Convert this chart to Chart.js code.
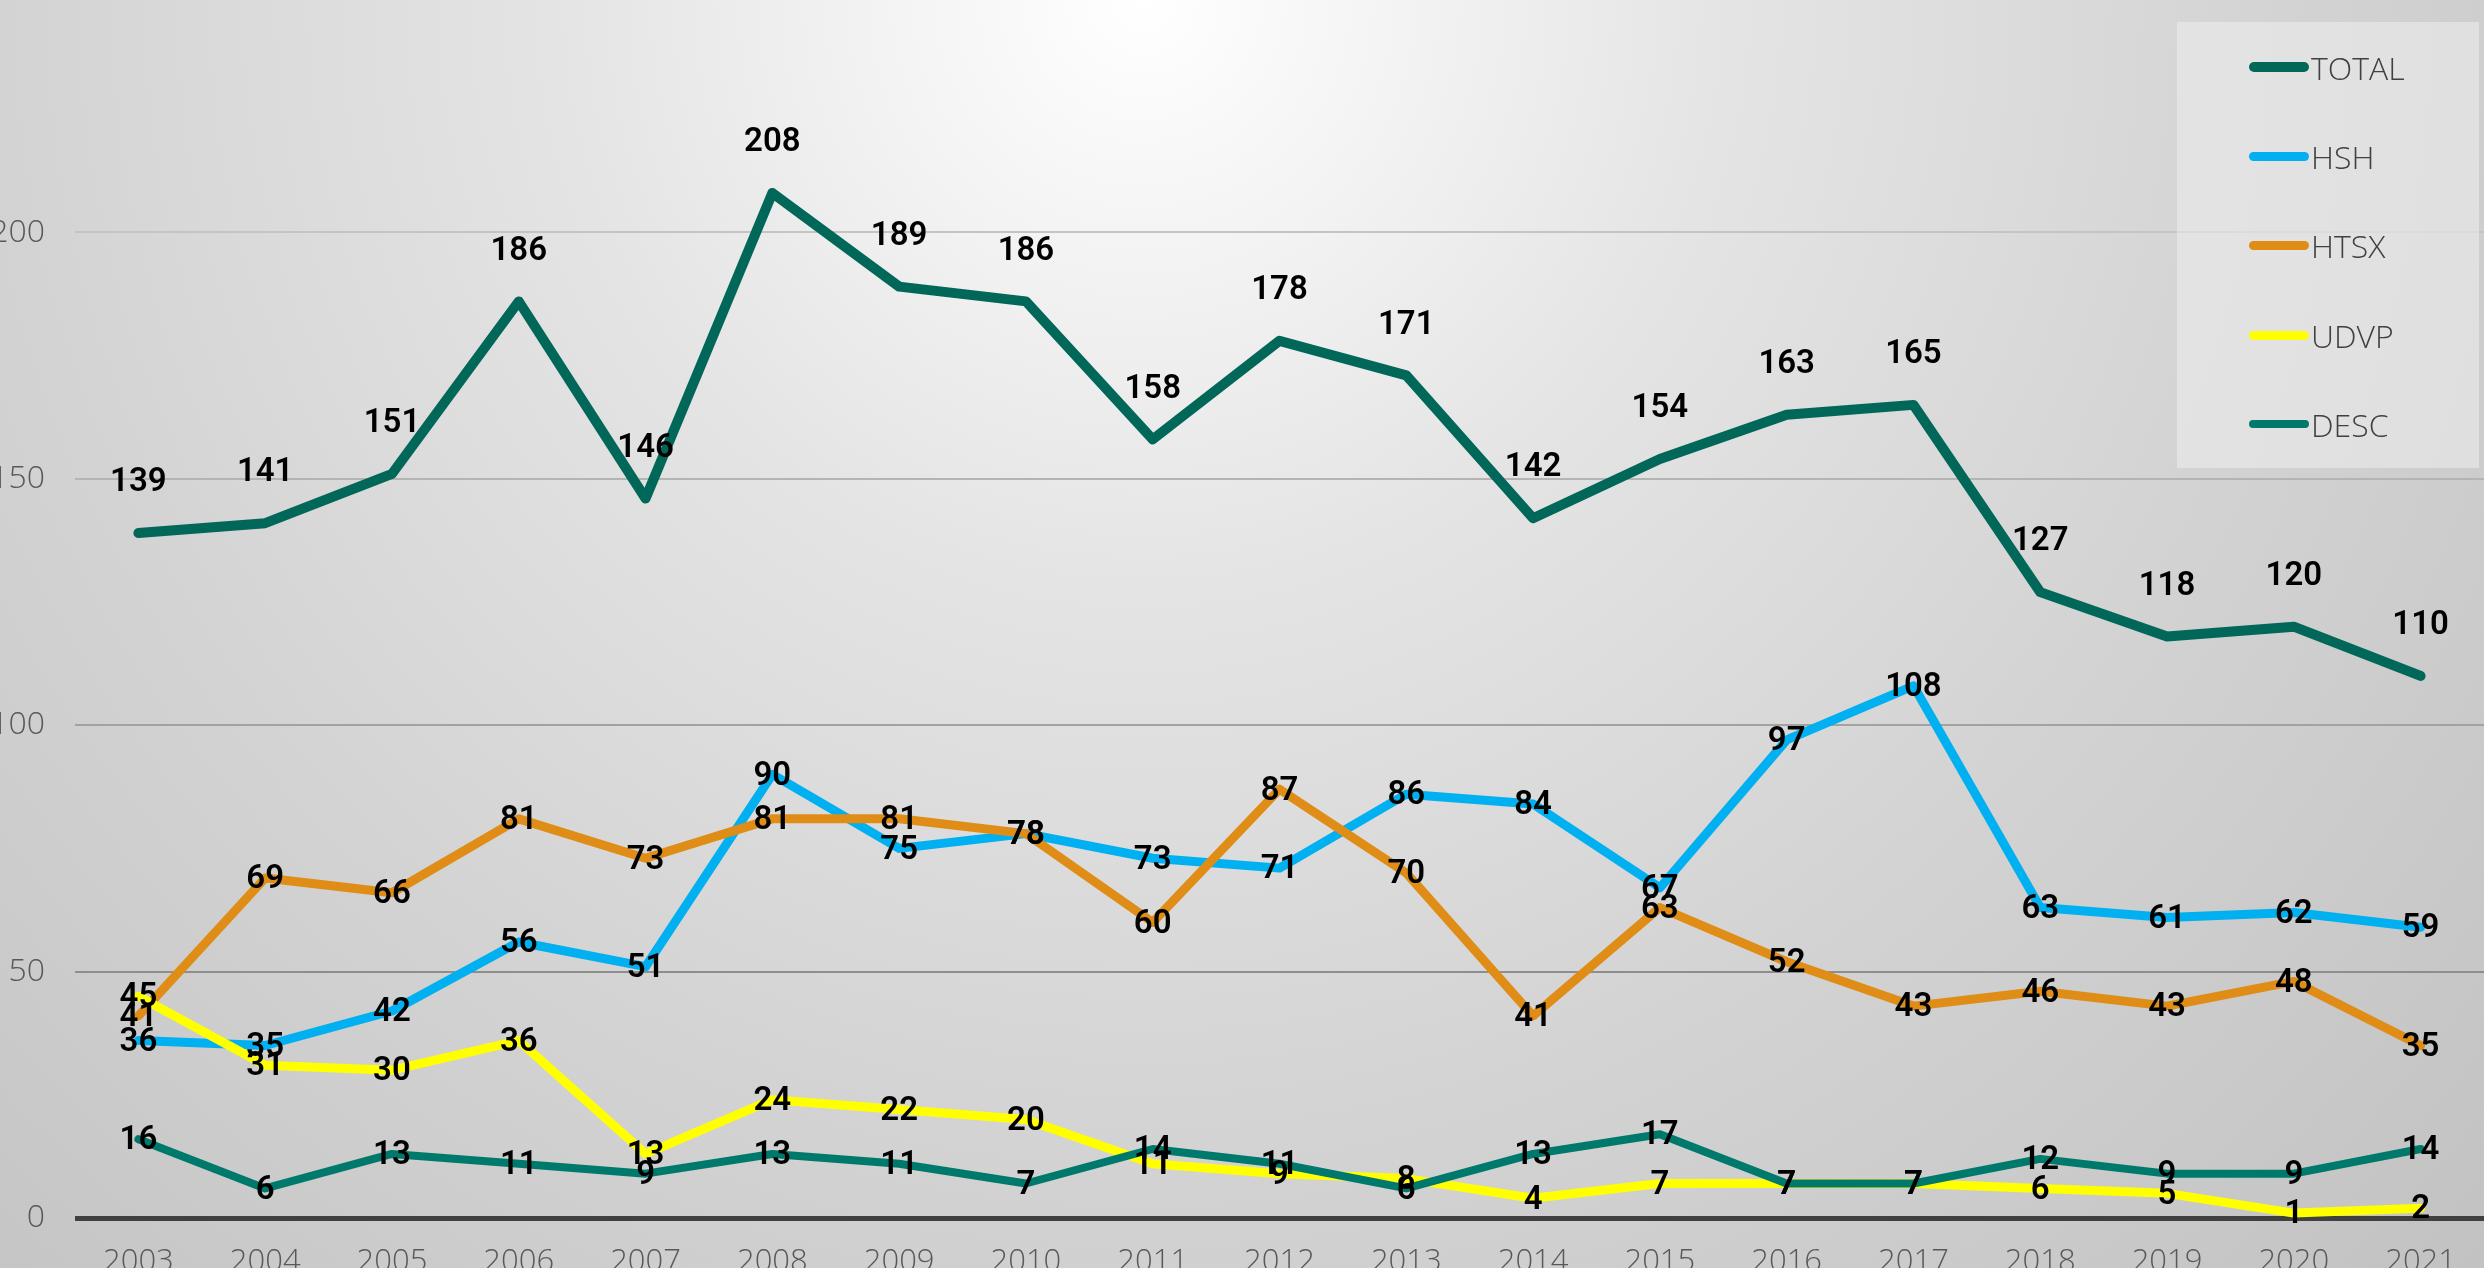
<!DOCTYPE html>
<html>
<head>
<meta charset="utf-8">
<script src="https://cdn.jsdelivr.net/npm/chart.js@4.4.0/dist/chart.umd.min.js"></script>
<style>
  html, body { margin: 0; padding: 0; }
  body {
    width: 2484px; height: 1268px; overflow: hidden; position: relative;
    background: radial-gradient(circle farthest-corner at 46% 0%, #ffffff 0%, #e4e4e4 32%, #d3d3d3 62%, #c2c2c2 100%);
  }
  #wrap { position: absolute; left: -20px; top: -34px; width: 2504px; height: 1312px; }
  #legend {
    position: absolute; left: 2177px; top: 22px; width: 302px; height: 446px;
    background: rgba(238,238,238,0.55);
    font-family: "Open Sans", "Lato", sans-serif; font-weight: 300; font-size: 32px; color: #404040;
  }
  .item { position: absolute; left: 72px; height: 40px; display: flex; align-items: center; }
  .swatch { width: 60px; border-radius: 6px; margin-right: 2px; }
</style>
</head>
<body>
<div id="wrap"><canvas id="c" width="2504" height="1312"></canvas></div>
<div id="legend"></div>
<script>
const years = ['2003','2004','2005','2006','2007','2008','2009','2010','2011','2012','2013','2014','2015','2016','2017','2018','2019','2020','2021'];
const seriesNames = ['TOTAL','HSH','HTSX','UDVP','DESC'];
const total = [139,141,151,186,146,208,189,186,158,178,171,142,154,163,165,127,118,120,110];
const hsh   = [36,35,42,56,51,90,75,78,73,71,86,84,67,97,108,63,61,62,59];
const htsx  = [41,69,66,81,73,81,81,78,60,87,70,41,63,52,43,46,43,48,35];
const udvp  = [45,31,30,36,13,24,22,20,11,9,8,4,7,7,7,6,5,1,2];
const desc  = [16,6,13,11,9,13,11,7,14,11,6,13,17,7,7,12,9,9,14];
const yMin = 0, yMax = 250, yStep = 50;

const colors = ['#006759','#00B0F0','#DF8D16','#FFFF00','#00796D'];
const widths = [10,9,9,9,8];
const labelOffsets = [-50,2,2,2,2];
const seriesData = [total, hsh, htsx, udvp, desc];

const gridColors = {0:'#404040',50:'#8e8e8e',100:'#a2a2a2',150:'#b4b4b4',200:'#c4c4c4'};

const labelPlugin = {
  id: 'valueLabels',
  afterDatasetsDraw(chart) {
    const ctx = chart.ctx;
    ctx.save();
    ctx.font = '600 33px Roboto, "Liberation Sans", sans-serif';
    ctx.fillStyle = '#000000';
    ctx.textAlign = 'center';
    ctx.textBaseline = 'middle';
    chart.data.datasets.forEach((ds, i) => {
      const meta = chart.getDatasetMeta(i);
      meta.data.forEach((pt, j) => {
        ctx.fillText(String(ds.data[j]), pt.x, pt.y + labelOffsets[i]);
      });
    });
    ctx.restore();
  }
};

const datasets = seriesNames.map((name, i) => ({
  label: name,
  data: seriesData[i],
  borderColor: colors[i],
  backgroundColor: colors[i],
  borderWidth: widths[i],
  pointRadius: 0,
  tension: 0,
  fill: false,
  borderJoinStyle: 'round',
  borderCapStyle: 'round',
  order: seriesNames.length - i
}));

const chart = new Chart(document.getElementById('c'), {
  type: 'line',
  data: { labels: years, datasets },
  options: {
    responsive: false,
    animation: false,
    devicePixelRatio: 1,
    layout: { padding: { top: 20, right: 0, bottom: 0, left: 0 } },
    plugins: { legend: { display: false }, tooltip: { enabled: false } },
    scales: {
      x: {
        type: 'category',
        offset: true,
        grid: { display: false, drawTicks: false },
        border: { display: false },
        ticks: {
          color: '#595959',
          font: { family: '"Open Sans", Lato, sans-serif', size: 31, weight: 300 },
          padding: 26, maxRotation: 0, autoSkip: false
        },
        afterFit(s) { s.height = 60; s.paddingLeft = 0; s.paddingRight = 0; }
      },
      y: {
        min: yMin, max: yMax,
        grid: {
          drawTicks: false,
          color: (c) => gridColors[c.tick.value] || '#b0b0b0',
          lineWidth: (c) => c.tick.value === 0 ? 5 : 2
        },
        border: { display: false },
        ticks: {
          stepSize: yStep,
          color: '#595959',
          font: { family: '"Open Sans", Lato, sans-serif', size: 32, weight: 300 },
          padding: 30
        },
        afterFit(s) { s.width = 95; s.paddingTop = 0; s.paddingBottom = 0; }
      }
    }
  },
  plugins: [labelPlugin]
});

// align the plot with the page frame
const wrap = document.getElementById('wrap');
const y0 = chart.scales.y.getPixelForValue(0);
wrap.style.top = (1218 - y0) + 'px';
wrap.style.left = (75 - chart.chartArea.left) + 'px';

// legend
const legend = document.getElementById('legend');
const legendTops = [67, 156, 245, 335, 424];
seriesNames.forEach((name, i) => {
  const it = document.createElement('div');
  it.className = 'item';
  it.style.top = (legendTops[i] - 22 - 20) + 'px';
  const sw = document.createElement('div');
  sw.className = 'swatch';
  sw.style.height = widths[i] + 'px';
  sw.style.background = colors[i];
  const tx = document.createElement('span');
  tx.textContent = name;
  it.appendChild(sw); it.appendChild(tx);
  legend.appendChild(it);
});
</script>
</body>
</html>
